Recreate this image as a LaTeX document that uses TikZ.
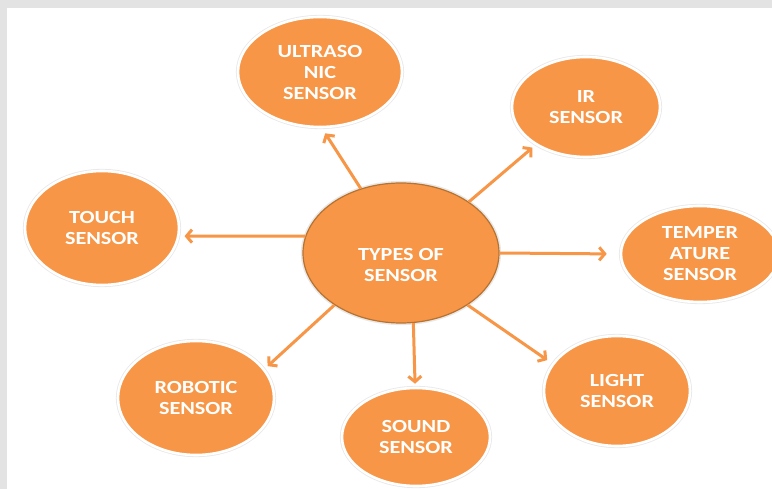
\documentclass[tikz,border=0pt]{standalone}
\usepackage{fontspec}
\setmainfont{Carlito}[FakeStretch=1.2]
\usepackage{tikz}
\usetikzlibrary{arrows.meta}
\usetikzlibrary{shapes.geometric}
\definecolor{sorange}{HTML}{F79646}
\definecolor{sborder}{HTML}{B8722F}
\definecolor{sframe}{HTML}{E3E3E3}
\tikzstyle{sensor}=[ellipse,fill=sorange,inner sep=0pt,align=center,text=white,
  font=\fontsize{18.5}{21}\selectfont\bfseries,
  preaction={draw=black!9,line width=4.2pt},draw=white,line width=2.6pt]
\tikzstyle{hub}=[sensor,preaction={},draw=sborder,line width=1.2pt]
\tikzstyle{link}=[draw=sorange,line width=3pt,-{Straight Barb[length=5.5pt,width=13pt,line width=3pt]}]

\begin{document}
\begin{tikzpicture}[x=1pt,y=-1pt]
	\fill[sframe] (0,0) rectangle (772,489);
	\fill[white] (7,8) rectangle (772,489);
	\useasboundingbox (0,0) rectangle (772,489);
	\node[hub,minimum width=196pt,minimum height=140pt] (types) at (401,253) {\strut\\TYPES OF\\SENSOR};
	\node[sensor,minimum width=164pt,minimum height=110pt] (ultra) at (320,72)  {ULTRASO\\NIC\\SENSOR};
	\node[sensor,minimum width=148pt,minimum height=100pt] (ir)    at (586,107) {IR\\SENSOR};
	\node[sensor,minimum width=154pt,minimum height=114pt] (touch) at (102,228) {TOUCH\\SENSOR};
	\node[sensor,minimum width=158pt,minimum height=96pt]  (temp)  at (700,254) {TEMPER\\ATURE\\SENSOR};
	\node[sensor,minimum width=156pt,minimum height=114pt] (robot) at (196,398) {ROBOTIC\\SENSOR};
	\node[sensor,minimum width=148pt,minimum height=98pt]  (sound) at (416,437) {SOUND\\SENSOR};
	\node[sensor,minimum width=146pt,minimum height=110pt] (light) at (617,391) {LIGHT\\SENSOR};
	\draw[link,shorten >=6pt]  (types.122) -- (ultra.272);
	\draw[link,shorten >=4pt]  (types.37)  -- (ir.217);
	\draw[link,shorten >=13pt] (types.0)   -- (temp.180);
	\draw[link,shorten >=6pt]  (types.-38) -- (light.157);
	\draw[link,shorten >=3pt]  (types.-80) -- (sound.91);
	\draw[link,shorten >=4pt]  (types.218) -- (robot.23);
	\draw[link,shorten >=5pt]  (types.170) -- (touch.-6);
\end{tikzpicture}
\end{document}
